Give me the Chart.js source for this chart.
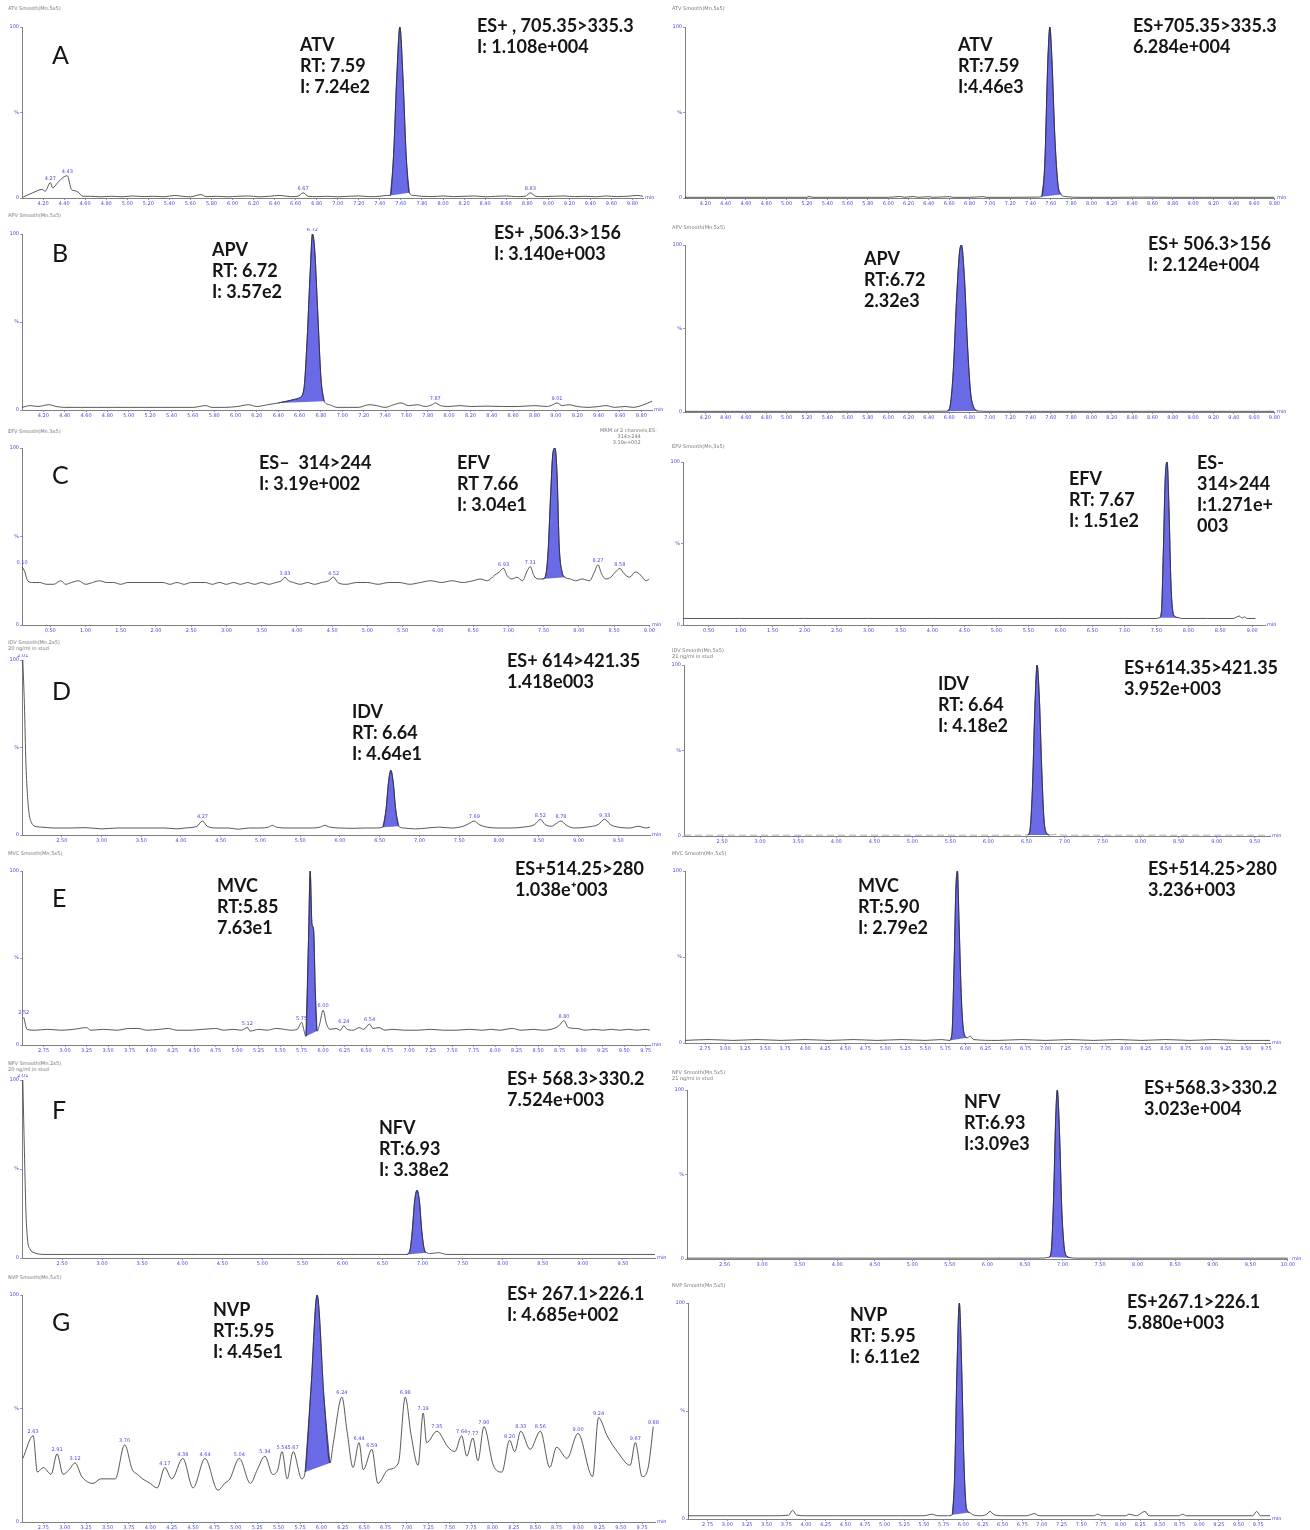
<!DOCTYPE html>
<html>
<head>
<meta charset="utf-8">
<script src="https://cdn.jsdelivr.net/npm/chart.js@4.4.0/dist/chart.umd.min.js"></script>
<style>
  html, body { margin: 0; padding: 0; background: #fff; }
  #page { position: relative; width: 1310px; height: 1530px; overflow: hidden; font-family: Lato, "Open Sans", sans-serif; }
  canvas { position: absolute; }
  .note { position: absolute; font-weight: 700; font-size: 18px; line-height: 21px; color: #151515; white-space: pre; }
  .letter { position: absolute; font-size: 25px; line-height: 28px; color: #151515; }
  .head { position: absolute; font-family: "DejaVu Sans", sans-serif; font-size: 5px; line-height: 6px; color: #777; white-space: pre; }
  .unit { position: absolute; font-family: "DejaVu Sans", sans-serif; font-size: 5px; line-height: 6px; color: #4848e0; }
</style>
</head>
<body>
<div id="page"></div>
<script>
// Each trace: [retention time (min), relative intensity (%)]
// x axis of each trace: [min, max, label step]
// peak windows: [start, end] of the shaded (integrated) peak
// marks: retention times printed over small peaks

// ---- A : ATV ----
const atvLeft = [[4.01,0.5],[4.10,3],[4.19,5],[4.22,4],[4.27,9],[4.29,6],[4.34,9],[4.39,12],[4.43,13],[4.47,5],[4.52,4],[4.58,1],[4.65,1],[4.75,0.7],[4.85,1],[4.95,0.7],[5.05,1.2],[5.15,0.8],[5.25,1],[5.35,0.7],[5.45,1.5],[5.52,1],[5.60,0.7],[5.70,2],[5.75,0.8],[5.85,1],[5.95,0.7],[6.05,1],[6.15,1.2],[6.25,0.7],[6.35,1],[6.45,1.5],[6.55,0.8],[6.62,1],[6.67,3],[6.72,1],[6.80,0.8],[6.90,1],[7.00,0.7],[7.10,1],[7.20,1.2],[7.30,0.8],[7.40,1],[7.46,1.5],[7.50,1.5],[7.53,25],[7.56,70],[7.59,100],[7.62,70],[7.65,25],[7.68,3],[7.72,1.5],[7.80,1],[7.90,0.8],[8.00,1.2],[8.10,0.8],[8.20,1],[8.30,1.2],[8.40,0.7],[8.50,1],[8.60,1.2],[8.70,0.8],[8.78,1],[8.83,3],[8.88,1],[8.95,0.8],[9.05,1],[9.15,1.2],[9.25,0.8],[9.35,1],[9.45,0.7],[9.55,1.2],[9.65,0.8],[9.75,1],[9.85,1.5],[9.90,1]];
const atvLeftAxis = [4.0, 9.9, 0.2];
const atvLeftPeak = [7.50, 7.68];
const atvLeftMarks = [4.27, 4.43, 6.67, 8.83];

const atvRight = [[4.00,0.4],[4.40,0.4],[4.80,0.4],[5.20,0.4],[5.22,0.9],[5.26,0.4],[5.60,0.4],[6.00,0.4],[6.12,0.9],[6.16,0.4],[6.25,0.9],[6.29,0.4],[6.40,0.8],[6.44,0.4],[6.60,0.8],[6.64,0.4],[6.80,0.4],[6.93,0.8],[6.97,0.4],[7.20,0.4],[7.45,0.5],[7.51,0.8],[7.54,20],[7.57,80],[7.59,100],[7.61,82],[7.64,35],[7.67,8],[7.70,2],[7.75,0.8],[7.90,0.4],[8.20,0.4],[8.50,0.5],[8.80,0.4],[9.10,0.4],[9.40,0.4],[9.80,0.4]];
const atvRightAxis = [4.0, 9.8, 0.2];
const atvRightPeak = [7.51, 7.70];
const atvRightMarks = [];

// ---- B : APV ----
const apvLeft = [[4.00,1.5],[4.08,2.5],[4.15,2],[4.25,3],[4.32,2],[4.40,1.5],[4.55,1.5],[4.70,1.5],[4.85,1.5],[5.00,1.5],[5.15,1.5],[5.30,1.5],[5.45,1.5],[5.60,1.5],[5.72,2.5],[5.78,1.5],[5.90,1.5],[6.02,2],[6.12,3],[6.20,2],[6.30,3],[6.40,4],[6.48,5],[6.55,6],[6.60,7],[6.64,12],[6.67,40],[6.70,80],[6.72,100],[6.74,92],[6.77,55],[6.80,18],[6.83,5],[6.88,3],[6.95,1.5],[7.05,1.5],[7.15,1.5],[7.25,3],[7.32,2.5],[7.40,1.5],[7.48,3],[7.55,4],[7.62,2.5],[7.70,3],[7.78,2],[7.84,3],[7.87,4],[7.92,2.5],[8.00,2],[8.10,2.5],[8.20,2],[8.35,2.2],[8.50,2],[8.65,2],[8.80,2.5],[8.92,2],[8.97,3],[9.01,4],[9.06,2.5],[9.12,3],[9.20,2],[9.30,1.5],[9.40,2],[9.47,2.5],[9.55,1.5],[9.65,2],[9.72,1.5],[9.80,2.5],[9.90,5]];
const apvLeftAxis = [4.0, 9.9, 0.2];
const apvLeftPeak = [6.40, 6.83];
const apvLeftMarks = [6.72, 7.87, 9.01];

const apvRight = [[4.00,0.4],[4.50,0.4],[5.00,0.4],[5.50,0.4],[6.00,0.4],[6.40,0.4],[6.58,0.5],[6.61,4],[6.64,25],[6.67,65],[6.70,95],[6.72,100],[6.75,80],[6.78,40],[6.81,12],[6.84,3],[6.88,0.6],[7.00,0.4],[7.50,0.4],[8.00,0.4],[8.50,0.4],[9.00,0.4],[9.50,0.4],[9.80,0.4]];
const apvRightAxis = [4.0, 9.8, 0.2];
const apvRightPeak = [6.58, 6.88];
const apvRightMarks = [];

// ---- C : EFV ----
const efvLeft = [[0.10,33],[0.14,30],[0.18,25],[0.25,24],[0.35,24],[0.45,23],[0.55,23],[0.65,25],[0.72,23],[0.80,24],[0.90,25],[1.00,23],[1.10,24],[1.20,25],[1.30,24],[1.40,24],[1.50,23],[1.60,24],[1.70,24],[1.80,24],[1.90,24],[2.00,24],[2.10,24],[2.20,23],[2.30,24],[2.40,23],[2.50,24],[2.60,24],[2.70,24],[2.80,23],[2.90,24],[3.00,23],[3.10,24],[3.20,23],[3.30,24],[3.40,23],[3.50,24],[3.60,23],[3.70,24],[3.78,25],[3.83,27],[3.88,25],[3.95,24],[4.05,23],[4.15,24],[4.25,23],[4.35,24],[4.45,25],[4.52,27],[4.58,24],[4.70,23],[4.85,24],[5.00,24],[5.15,23],[5.30,24],[5.45,24],[5.60,23],[5.75,24],[5.90,25],[6.05,24],[6.20,25],[6.35,24],[6.50,25],[6.60,26],[6.70,25],[6.80,28],[6.87,30],[6.93,32],[6.98,28],[7.05,26],[7.12,27],[7.20,25],[7.26,30],[7.31,33],[7.36,28],[7.42,26],[7.48,26],[7.52,27],[7.56,40],[7.60,75],[7.63,97],[7.66,100],[7.69,85],[7.72,45],[7.76,30],[7.80,27],[7.88,26],[7.95,25],[8.05,26],[8.15,25],[8.22,30],[8.27,34],[8.32,29],[8.38,26],[8.45,27],[8.52,30],[8.58,32],[8.64,29],[8.72,27],[8.80,30],[8.88,28],[8.95,25],[9.00,26]];
const efvLeftAxis = [0.1, 9.0, 0.5];
const efvLeftPeak = [7.48, 7.80];
const efvLeftMarks = [0.10, 3.83, 4.52, 6.93, 7.31, 8.27, 8.58];

const efvRight = [[0.10,4],[1.00,4],[2.00,4],[3.00,4],[4.00,4],[5.00,4],[6.00,4],[7.00,4],[7.50,4],[7.55,4.5],[7.58,8],[7.61,45],[7.64,90],[7.67,100],[7.70,70],[7.73,25],[7.76,8],[7.80,5],[7.85,4.5],[7.90,4],[8.30,4],[8.70,4],[8.80,5.5],[8.84,4.2],[8.88,5],[8.92,4],[9.05,4]];
const efvRightAxis = [0.1, 9.2, 0.5];
const efvRightPeak = [7.55, 7.85];
const efvRightMarks = [];

// ---- D : IDV ----
const idvLeft = [[2.01,100],[2.03,75],[2.05,40],[2.07,22],[2.09,12],[2.12,7],[2.16,5],[2.25,4.5],[2.40,4],[2.60,4],[2.80,4.2],[3.00,3.5],[3.20,4],[3.40,4],[3.60,4],[3.80,4],[3.95,3.5],[4.05,4],[4.20,5],[4.27,8],[4.33,5],[4.45,4],[4.60,4],[4.72,3.3],[4.85,4],[5.00,4],[5.10,4.5],[5.15,5.5],[5.20,4.5],[5.35,4],[5.50,4],[5.65,4],[5.75,4.5],[5.81,5.5],[5.87,4.5],[6.00,4],[6.15,3.8],[6.30,4],[6.45,4],[6.54,4.5],[6.58,15],[6.61,30],[6.64,37],[6.67,30],[6.70,15],[6.74,5],[6.80,4],[6.95,3.5],[7.10,4],[7.25,4.5],[7.40,4],[7.55,5],[7.62,6.5],[7.69,8],[7.75,6],[7.85,4.5],[8.00,4],[8.15,4],[8.30,4.5],[8.45,6],[8.52,9],[8.58,6],[8.66,5],[8.72,6.5],[8.78,8],[8.85,5.5],[8.95,4],[9.10,4.5],[9.25,6],[9.33,9],[9.40,6],[9.50,4.5],[9.65,4],[9.75,5],[9.85,4],[9.90,4.5]];
const idvLeftAxis = [2.0, 9.9, 0.5];
const idvLeftPeak = [6.54, 6.74];
const idvLeftMarks = [2.01, 4.27, 7.69, 8.52, 8.78, 9.33];

const idvRight = [[2.00,0.5],[2.50,0.5],[3.00,0.5],[3.50,0.5],[4.00,0.5],[4.50,0.5],[5.00,0.5],[5.50,0.5],[6.00,0.5],[6.40,0.5],[6.52,0.6],[6.55,5],[6.58,30],[6.61,75],[6.64,100],[6.67,80],[6.70,40],[6.73,10],[6.76,2],[6.80,0.6],[6.90,1],[7.00,0.5],[7.50,0.5],[8.00,0.5],[8.50,0.5],[9.00,0.5],[9.50,0.5],[9.70,0.5]];
const idvRightAxis = [2.0, 9.7, 0.5];
const idvRightPeak = [6.52, 6.80];
const idvRightMarks = [];

// ---- E : MVC ----
const mvcLeft = [[2.52,16],[2.56,9],[2.65,8.5],[2.80,9],[2.95,8.5],[3.10,9],[3.25,10],[3.30,8.5],[3.45,9],[3.60,8.5],[3.75,9.5],[3.85,9.5],[3.95,8.5],[4.10,9],[4.20,9.5],[4.30,8.5],[4.45,8.5],[4.60,9],[4.75,9.5],[4.85,8.5],[4.95,9],[5.05,8.5],[5.12,10],[5.15,8],[5.25,9],[5.35,8.5],[5.45,9.5],[5.55,9],[5.62,8.5],[5.70,9],[5.75,13],[5.78,8],[5.80,5],[5.83,60],[5.85,100],[5.87,70],[5.89,66],[5.91,30],[5.93,8],[5.96,12],[6.00,20],[6.04,12],[6.08,9],[6.15,9.5],[6.20,8.5],[6.24,11],[6.28,9],[6.35,8.5],[6.42,10],[6.47,9],[6.54,12],[6.58,9.5],[6.65,10],[6.72,8.5],[6.80,9],[6.95,8.5],[7.10,8.5],[7.25,9],[7.40,8.5],[7.55,8.5],[7.70,9],[7.85,8.5],[7.95,9],[8.05,8.5],[8.20,9.5],[8.30,8.5],[8.45,9],[8.55,8.5],[8.65,9],[8.74,11],[8.80,14],[8.85,10],[8.95,9.5],[9.05,8.5],[9.15,9],[9.25,8.5],[9.35,9],[9.45,8.5],[9.55,9],[9.65,8.5],[9.75,9],[9.80,8.5]];
const mvcLeftAxis = [2.5, 9.8, 0.25];
const mvcLeftPeak = [5.80, 5.93];
const mvcLeftMarks = [2.52, 5.12, 5.75, 6.00, 6.24, 6.54, 8.80];

const mvcRight = [[2.50,1.5],[2.80,2],[3.10,1.5],[3.40,2],[3.70,1.5],[4.00,2],[4.30,1.5],[4.60,2],[4.90,1.5],[5.20,2],[5.50,1.5],[5.70,2],[5.80,1.5],[5.83,5],[5.86,50],[5.88,90],[5.90,100],[5.92,70],[5.95,25],[5.98,6],[6.02,3],[6.06,4],[6.10,2],[6.40,1.5],[6.70,2],[7.00,1.5],[7.30,2],[7.60,1.5],[7.90,2],[8.20,1.5],[8.50,2],[8.80,1.5],[9.10,2],[9.40,1.5],[9.80,1.5]];
const mvcRightAxis = [2.5, 9.8, 0.25];
const mvcRightPeak = [5.80, 6.02];
const mvcRightMarks = [];

// ---- F : NFV ----
const nfvLeft = [[2.01,100],[2.03,60],[2.05,25],[2.07,10],[2.10,5],[2.15,3],[2.30,2],[2.60,2],[3.00,2],[3.40,2],[3.80,2],[4.20,2],[4.60,2],[5.00,2],[5.40,2],[5.80,2],[6.20,2],[6.60,2],[6.80,2],[6.84,4],[6.87,15],[6.90,32],[6.93,38],[6.96,32],[6.99,15],[7.02,5],[7.05,3],[7.10,2.5],[7.20,3],[7.30,2],[7.60,2],[8.00,2],[8.40,2],[8.80,2],[9.20,2],[9.60,2],[9.90,2]];
const nfvLeftAxis = [2.0, 9.9, 0.5];
const nfvLeftPeak = [6.80, 7.05];
const nfvLeftMarks = [2.01];

const nfvRight = [[2.00,0.5],[3.00,0.5],[4.00,0.5],[5.00,0.5],[6.00,0.5],[6.70,0.5],[6.82,1],[6.85,5],[6.88,35],[6.91,85],[6.93,100],[6.96,75],[6.99,30],[7.02,8],[7.05,2],[7.10,0.8],[7.20,0.5],[8.00,0.5],[9.00,0.5],[10.00,0.5]];
const nfvRightAxis = [2.0, 10.0, 0.5];
const nfvRightPeak = [6.82, 7.10];
const nfvRightMarks = [];

// ---- G : NVP ----
const nvpLeft = [[2.51,28],[2.63,38],[2.68,22],[2.75,24],[2.84,21],[2.91,30],[2.98,21],[3.05,23],[3.12,26],[3.20,20],[3.33,17],[3.42,19],[3.49,19],[3.59,19],[3.70,34],[3.79,23],[3.85,21],[3.91,19],[4.00,17],[4.08,15],[4.17,24],[4.25,19],[4.38,28],[4.50,15],[4.64,28],[4.79,14],[4.87,17],[4.93,19],[5.04,28],[5.17,17],[5.25,23],[5.34,29],[5.43,21],[5.49,23],[5.54,31],[5.60,19],[5.67,31],[5.77,19],[5.81,22],[5.88,60],[5.95,100],[6.03,55],[6.10,26],[6.14,35],[6.24,55],[6.30,40],[6.37,24],[6.44,35],[6.49,23],[6.59,32],[6.66,17],[6.78,23],[6.90,26],[6.98,55],[7.05,38],[7.13,25],[7.19,48],[7.23,35],[7.35,40],[7.48,33],[7.56,31],[7.64,38],[7.70,29],[7.77,37],[7.83,27],[7.90,42],[8.01,25],[8.11,22],[8.20,36],[8.26,31],[8.33,40],[8.44,32],[8.56,40],[8.67,24],[8.75,33],[8.87,28],[9.00,39],[9.17,20],[9.24,46],[9.34,38],[9.46,31],[9.61,25],[9.67,35],[9.75,20],[9.82,24],[9.88,42]];
const nvpLeftAxis = [2.5, 9.9, 0.25];
const nvpLeftPeak = [5.81, 6.10];
const nvpLeftMarks = [2.63, 2.91, 3.12, 3.70, 4.17, 4.38, 4.64, 5.04, 5.34, 5.54, 5.67, 6.24, 6.44, 6.59, 6.98, 7.19, 7.35, 7.64, 7.77, 7.90, 8.20, 8.33, 8.56, 9.00, 9.24, 9.67, 9.88];

const nvpRight = [[2.50,1.5],[2.70,1.5],[3.00,1.5],[3.30,1.5],[3.60,1.5],[3.78,1.8],[3.83,4],[3.88,1.8],[4.00,1.5],[4.40,1.5],[4.80,1.5],[5.20,1.5],[5.50,1.5],[5.60,2.2],[5.68,1.5],[5.80,1.5],[5.86,2],[5.89,20],[5.92,70],[5.95,100],[5.98,70],[6.01,25],[6.04,5],[6.08,3],[6.12,2],[6.20,1.5],[6.29,2],[6.34,3.5],[6.39,2],[6.50,1.5],[6.80,1.5],[6.91,2.5],[6.96,1.5],[7.30,1.5],[7.66,1.5],[7.71,2.2],[7.76,1.5],[8.06,1.5],[8.11,2.2],[8.20,1.5],[8.31,3.5],[8.36,1.5],[8.74,1.5],[8.79,2.2],[8.84,1.5],[9.20,1.5],[9.68,1.5],[9.73,3.5],[9.78,1.5],[9.90,1.5]];
const nvpRightAxis = [2.5, 9.9, 0.25];
const nvpRightPeak = [5.86, 6.08];
const nvpRightMarks = [];

// panel placement: box = [axis left, axis right, y of 100%, y of 0%]
const panels = [
  { data: atvLeft,  axis: atvLeftAxis,  peak: atvLeftPeak,  marks: atvLeftMarks,  box: [22, 643, 27, 198] },
  { data: atvRight, axis: atvRightAxis, peak: atvRightPeak, marks: atvRightMarks, box: [685, 1275, 27, 198] },
  { data: apvLeft,  axis: apvLeftAxis,  peak: apvLeftPeak,  marks: apvLeftMarks,  box: [22, 652, 234, 410] },
  { data: apvRight, axis: apvRightAxis, peak: apvRightPeak, marks: apvRightMarks, box: [685, 1275, 245, 412] },
  { data: efvLeft,  axis: efvLeftAxis,  peak: efvLeftPeak,  marks: efvLeftMarks,  box: [22, 650, 448, 625] },
  { data: efvRight, axis: efvRightAxis, peak: efvRightPeak, marks: efvRightMarks, box: [683, 1265, 462, 625] },
  { data: idvLeft,  axis: idvLeftAxis,  peak: idvLeftPeak,  marks: idvLeftMarks,  box: [22, 650, 660, 835] },
  { data: idvRight, axis: idvRightAxis, peak: idvRightPeak, marks: idvRightMarks, box: [684, 1270, 665, 836], dashed: true },
  { data: mvcLeft,  axis: mvcLeftAxis,  peak: mvcLeftPeak,  marks: mvcLeftMarks,  box: [22, 650, 871, 1045] },
  { data: mvcRight, axis: mvcRightAxis, peak: mvcRightPeak, marks: mvcRightMarks, box: [685, 1270, 871, 1043] },
  { data: nfvLeft,  axis: nfvLeftAxis,  peak: nfvLeftPeak,  marks: nfvLeftMarks,  box: [22, 655, 1080, 1258] },
  { data: nfvRight, axis: nfvRightAxis, peak: nfvRightPeak, marks: nfvRightMarks, box: [687, 1290, 1090, 1259] },
  { data: nvpLeft,  axis: nvpLeftAxis,  peak: nvpLeftPeak,  marks: nvpLeftMarks,  box: [22, 655, 1295, 1522] },
  { data: nvpRight, axis: nvpRightAxis, peak: nvpRightPeak, marks: nvpRightMarks, box: [688, 1270, 1303, 1519] }
];

// small instrument headers above each trace
const heads = [
  [8, 5, 'ATV Smooth(Mn,5x5)'], [672, 5, 'ATV Smooth(Mn,5x5)'],
  [8, 212, 'APV Smooth(Mn,5x5)'], [672, 224, 'APV Smooth(Mn,5x5)'],
  [8, 428, 'EFV Smooth(Mn,3x5)'], [672, 443, 'EFV Smooth(Mn,3x5)'],
  [8, 639, 'IDV Smooth(Mn,2x5)\n20 ng/ml in stud'], [672, 647, 'IDV Smooth(Mn,5x5)\n21 ng/ml in stud'],
  [8, 850, 'MVC Smooth(Mn,5x5)'], [672, 850, 'MVC Smooth(Mn,5x5)'],
  [8, 1060, 'NFV Smooth(Mn,2x5)\n20 ng/ml in stud'], [672, 1069, 'NFV Smooth(Mn,5x5)\n21 ng/ml in stud'],
  [8, 1274, 'NVP Smooth(Mn,5x5)'], [672, 1282, 'NVP Smooth(Mn,5x5)'],
  [600, 427, 'MRM of 2 channels,ES-\n           314>244\n        3.19e+002']
];

// bold annotations: [left, centre of first line, text]
const notes = [
  [300, 44, 'ATV\nRT: 7.59\nI: 7.24e2'],
  [477, 25, 'ES+ , 705.35>335.3\nI: 1.108e+004'],
  [958, 44, 'ATV\nRT:7.59\nI:4.46e3'],
  [1133, 25, 'ES+705.35>335.3\n6.284e+004'],
  [212, 249, 'APV\nRT: 6.72\nI: 3.57e2'],
  [494, 232, 'ES+ ,506.3>156\nI: 3.140e+003'],
  [864, 258, 'APV\nRT:6.72\n2.32e3'],
  [1148, 243, 'ES+ 506.3>156\nI: 2.124e+004'],
  [259, 462, 'ES–  314>244\nI: 3.19e+002'],
  [457, 462, 'EFV\nRT 7.66\nI: 3.04e1'],
  [1069, 478, 'EFV\nRT: 7.67\nI: 1.51e2'],
  [1197, 462, 'ES-\n314>244\nI:1.271e+\n003'],
  [507, 660, 'ES+ 614>421.35\n1.418e003'],
  [352, 711, 'IDV\nRT: 6.64\nI: 4.64e1'],
  [938, 683, 'IDV\nRT: 6.64\nI: 4.18e2'],
  [1124, 667, 'ES+614.35>421.35\n3.952e+003'],
  [217, 885, 'MVC\nRT:5.85\n7.63e1'],
  [515, 868, 'ES+514.25>280\n1.038e⁺003'],
  [858, 885, 'MVC\nRT:5.90\nI: 2.79e2'],
  [1148, 868, 'ES+514.25>280\n3.236+003'],
  [507, 1078, 'ES+ 568.3>330.2\n7.524e+003'],
  [379, 1127, 'NFV\nRT:6.93\nI: 3.38e2'],
  [964, 1101, 'NFV\nRT:6.93\nI:3.09e3'],
  [1144, 1087, 'ES+568.3>330.2\n3.023e+004'],
  [213, 1309, 'NVP\nRT:5.95\nI: 4.45e1'],
  [507, 1293, 'ES+ 267.1>226.1\nI: 4.685e+002'],
  [850, 1314, 'NVP\nRT: 5.95\nI: 6.11e2'],
  [1127, 1301, 'ES+267.1>226.1\n5.880e+003']
];

const letters = [['A', 52, 54], ['B', 52, 252], ['C', 52, 474], ['D', 52, 690], ['E', 52, 897], ['F', 52, 1109], ['G', 52, 1321]];

const page = document.getElementById('page');
const BLUE = '#4848e0';

function addText(cls, x, y, text) {
  const d = document.createElement('div');
  d.className = cls;
  d.style.left = x + 'px';
  d.style.top = y + 'px';
  d.textContent = text;
  page.appendChild(d);
}

function buildPanel(p) {
  const [L, R, T, B] = p.box;
  const padT = 6, padR = 6, axW = 22, axH = 10;
  const w = R - L + axW + padR, h = B - T + padT + axH;
  const cv = document.createElement('canvas');
  cv.width = w; cv.height = h;
  cv.style.left = (L - axW) + 'px';
  cv.style.top = (T - padT) + 'px';
  cv.style.width = w + 'px';
  cv.style.height = h + 'px';
  page.appendChild(cv);

  const pts = p.data.map(d => ({ x: d[0], y: d[1] }));
  const peakPts = pts.filter(d => d.x >= p.peak[0] - 1e-9 && d.x <= p.peak[1] + 1e-9);
  const basePts = [peakPts[0], peakPts[peakPts.length - 1]];
  const [xmin, xmax, step] = p.axis;

  // labels over small peaks
  const markPlugin = {
    id: 'marks',
    afterDatasetsDraw(chart) {
      const { ctx, scales } = chart;
      ctx.save();
      ctx.font = '5px "DejaVu Sans"';
      ctx.fillStyle = BLUE;
      ctx.textAlign = 'center';
      ctx.textBaseline = 'bottom';
      p.marks.forEach(t => {
        const pt = p.data.reduce((a, b) => Math.abs(b[0] - t) < Math.abs(a[0] - t) ? b : a);
        ctx.fillText(t.toFixed(2), scales.x.getPixelForValue(pt[0]), scales.y.getPixelForValue(pt[1]) - 1.5);
      });
      ctx.restore();
    }
  };

  new Chart(cv, {
    type: 'line',
    data: {
      datasets: [
        {
          data: pts, borderColor: '#2e2e2e', borderWidth: 0.8, pointRadius: 0,
          cubicInterpolationMode: 'monotone', fill: false,
          segment: p.dashed ? { borderDash: c => (c.p0.parsed.y < 2 && c.p1.parsed.y < 2) ? [7, 4] : undefined,
                                borderColor: c => (c.p0.parsed.y < 2 && c.p1.parsed.y < 2) ? '#9a9a9a' : undefined } : {}
        },
        {
          data: peakPts, borderColor: '#2c2c96', borderWidth: 0.8, pointRadius: 0,
          cubicInterpolationMode: 'monotone', backgroundColor: '#6a6ae6', fill: 2
        },
        { data: basePts, borderWidth: 0, pointRadius: 0, fill: false }
      ]
    },
    options: {
      responsive: false,
      animation: false,
      devicePixelRatio: 1,
      layout: { padding: { top: padT, right: padR, left: 0, bottom: 0 } },
      plugins: { legend: { display: false }, tooltip: { enabled: false } },
      scales: {
        x: {
          type: 'linear', min: xmin, max: xmax,
          afterFit: s => { s.height = axH; },
          afterBuildTicks: s => {
            const ticks = [];
            for (let k = Math.ceil(xmin / step + 0.01); k * step <= xmax + 1e-9; k++) ticks.push({ value: +(k * step).toFixed(2) });
            s.ticks = ticks;
          },
          grid: { drawOnChartArea: false, drawTicks: true, tickLength: 2, color: '#9a9a9a' },
          border: { color: '#808080', width: 1 },
          ticks: { autoSkip: false, maxRotation: 0, padding: 1, color: BLUE,
                   font: { size: 5, family: 'DejaVu Sans' }, callback: v => Number(v).toFixed(2) }
        },
        y: {
          min: 0, max: 100,
          afterFit: s => { s.width = axW; },
          afterBuildTicks: s => { s.ticks = [{ value: 0 }, { value: 50 }, { value: 100 }]; },
          grid: { drawOnChartArea: false, drawTicks: true, tickLength: 2, color: '#9a9a9a' },
          border: { color: '#808080', width: 1 },
          ticks: { padding: 1, color: BLUE, font: { size: 5, family: 'DejaVu Sans' },
                   callback: v => v === 50 ? '%' : String(v) }
        }
      }
    },
    plugins: [markPlugin]
  });

  addText('unit', R + 2, B - 4, 'min');
}

panels.forEach(buildPanel);
heads.forEach(h => addText('head', h[0], h[1], h[2]));
notes.forEach(n => addText('note', n[0], n[1] - 10.5, n[2]));
letters.forEach(l => addText('letter', l[1], l[2] - 14, l[0]));
</script>
</body>
</html>
